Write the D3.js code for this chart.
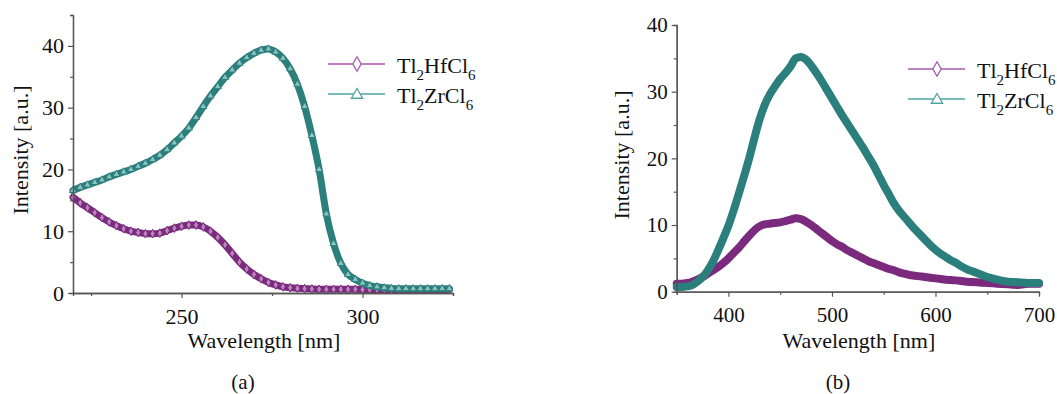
<!DOCTYPE html>
<html>
<head>
<meta charset="utf-8">
<script src="https://cdn.jsdelivr.net/npm/d3@7"></script>
<style>
  body { margin: 0; background: #fff; }
  text { font-family: "Liberation Serif", "Times New Roman", serif; fill: #111; }
</style>
</head>
<body>
<svg id="chart" width="1057" height="394"></svg>
<script>
// panel (a): excitation, 220-325 nm
const nmA = [220, 222, 224, 226, 228, 230, 232, 234, 236, 238, 240, 242, 244, 246, 248, 250,
  252, 254, 256, 258, 260, 262, 264, 266, 268, 270, 272, 274, 276, 278, 280, 282, 284, 286,
  288, 290, 292, 294, 296, 298, 300, 302, 304, 306, 308, 310, 312, 314, 316, 318, 320, 322, 324];
const hfA = [15.5, 14.6, 13.8, 13.0, 12.2, 11.5, 10.9, 10.4, 10.0, 9.8, 9.6, 9.6, 9.7, 10.1, 10.5, 10.8,
  11.0, 11.0, 10.7, 10.0, 9.0, 7.8, 6.4, 5.0, 3.9, 3.0, 2.3, 1.7, 1.3, 1.0, 0.85, 0.75, 0.7, 0.65,
  0.6, 0.6, 0.6, 0.6, 0.6, 0.6, 0.55, 0.55, 0.55, 0.55, 0.55, 0.55, 0.55, 0.55, 0.55, 0.55, 0.55, 0.55, 0.55];
const zrA = [16.6, 17.1, 17.5, 17.9, 18.3, 18.8, 19.2, 19.6, 20.0, 20.5, 21.0, 21.6, 22.3, 23.2, 24.3, 25.4,
  26.7, 28.4, 30.2, 31.9, 33.4, 34.9, 36.1, 37.2, 38.1, 38.8, 39.3, 39.5, 39.0, 38.0, 36.3, 33.8, 30.2, 25.5,
  20.0, 12.8, 8.0, 4.8, 3.0, 2.2, 1.6, 1.2, 1.0, 0.85, 0.75, 0.7, 0.7, 0.7, 0.7, 0.7, 0.7, 0.7, 0.7];

// panel (b): emission, 350-700 nm
const nmB = [350, 355, 360, 365, 370, 375, 380, 385, 390, 395, 400, 405, 410, 415, 420, 425, 430, 435,
  440, 445, 450, 455, 460, 465, 470, 475, 480, 485, 490, 495, 500, 505, 510, 515, 520, 525, 530, 535,
  540, 545, 550, 555, 560, 565, 570, 575, 580, 585, 590, 595, 600, 605, 610, 615, 620, 625, 630, 635,
  640, 645, 650, 655, 660, 665, 670, 675, 680, 685, 690, 695, 700];
const hfB = [1.2, 1.2, 1.3, 1.5, 1.8, 2.2, 2.7, 3.2, 3.7, 4.3, 5.0, 5.8, 6.6, 7.5, 8.4, 9.2, 9.8, 10.1,
  10.2, 10.3, 10.4, 10.6, 10.8, 11.0, 10.9, 10.5, 10.0, 9.4, 8.8, 8.2, 7.6, 7.1, 6.7, 6.2, 5.8, 5.4, 5.0, 4.6,
  4.3, 4.0, 3.7, 3.4, 3.2, 2.9, 2.7, 2.5, 2.4, 2.3, 2.2, 2.1, 2.0, 1.9, 1.8, 1.75, 1.7, 1.6, 1.5, 1.45,
  1.4, 1.35, 1.3, 1.25, 1.2, 1.15, 1.1, 1.05, 1.0, 1.1, 1.2, 1.2, 1.2];
const zrB = [0.7, 0.7, 0.8, 1.0, 1.5, 2.2, 3.2, 4.5, 6.2, 8.0, 9.9, 12.2, 14.7, 17.3, 20.0, 23.0, 25.8, 28.0,
  29.6, 30.8, 31.9, 32.8, 33.8, 35.0, 35.2, 34.8, 33.9, 32.8, 31.6, 30.3, 29.0, 27.7, 26.4, 25.2, 24.0, 22.8, 21.6, 20.3,
  19.0, 17.5, 16.0, 14.6, 13.2, 12.1, 11.2, 10.3, 9.4, 8.6, 7.8, 7.0, 6.3, 5.7, 5.2, 4.7, 4.3, 3.8, 3.4, 3.1,
  2.8, 2.5, 2.2, 2.0, 1.8, 1.6, 1.5, 1.45, 1.4, 1.35, 1.3, 1.3, 1.3];

const svg = d3.select("#chart");

const purple = "#7b2a7e",
  purpleLight = "#a65aab",
  teal = "#2b7f7c",
  tealLight = "#4ea5a2";

function legend(g, x, y) {
  const rows = [
    { name: ["Tl", "2", "HfCl", "6"], color: purpleLight, shape: d3.symbolDiamond },
    { name: ["Tl", "2", "ZrCl", "6"], color: tealLight, shape: d3.symbolTriangle },
  ];
  rows.forEach(function (r, i) {
    var ly = y + i * 30;
    g.append("line")
      .attr("x1", x).attr("x2", x + 57)
      .attr("y1", ly).attr("y2", ly)
      .attr("stroke", r.color).attr("stroke-width", 1.6);
    g.append("path")
      .attr("d", d3.symbol().type(r.shape).size(r.shape === d3.symbolDiamond ? 60 : 55)())
      .attr("transform", "translate(" + (x + 29) + "," + (ly + (i ? 1 : 0)) + ")")
      .attr("fill", "#fff").attr("stroke", r.color).attr("stroke-width", 1.3);
    var t = g.append("text")
      .attr("x", x + 69).attr("y", ly + 9)
      .attr("font-size", 22);
    t.append("tspan").text(r.name[0]);
    t.append("tspan").attr("font-size", 15).attr("dy", 7).text(r.name[1]);
    t.append("tspan").attr("dy", -7).text(r.name[2]);
    t.append("tspan").attr("font-size", 15).attr("dy", 7).text(r.name[3]);
  });
}

function panel(opt) {
  var x = d3.scaleLinear().domain(opt.xDomain).range([opt.left, opt.right]);
  var y = d3.scaleLinear().domain(opt.yDomain).range([opt.bottom, opt.top]);
  var g = svg.append("g");

  // data: thick band with the measured points on top
  var line = d3.line().curve(d3.curveMonotoneX);
  [
    { v: opt.hf, color: purple, fillc: opt.fillHf, shape: d3.symbolDiamond },
    { v: opt.zr, color: teal, fillc: opt.fillZr, shape: d3.symbolTriangle },
  ].forEach(function (s) {
    var pts = opt.nm.map(function (d, i) { return [x(d), y(s.v[i])]; });
    g.append("path")
      .attr("d", line(pts))
      .attr("fill", "none")
      .attr("stroke", s.color)
      .attr("stroke-width", opt.band)
      .attr("stroke-linejoin", "round")
      .attr("stroke-linecap", "round");
    g.selectAll(null)
      .data(pts)
      .enter()
      .append("path")
      .attr("d", d3.symbol().type(s.shape).size(opt.marker)())
      .attr("transform", function (d) { return "translate(" + d[0] + "," + d[1] + ")"; })
      .attr("fill", s.fillc)
      .attr("stroke", s.color)
      .attr("stroke-width", 1);
  });

  // axes
  var axisColor = "#555";
  g.append("g")
    .attr("transform", "translate(0," + opt.bottom + ")")
    .call(d3.axisBottom(x).tickValues(opt.xMajor).tickSizeInner(5).tickSizeOuter(0).tickPadding(10).tickFormat(d3.format("d")));
  g.append("g")
    .attr("transform", "translate(0," + opt.bottom + ")")
    .call(d3.axisBottom(x).tickValues(opt.xMinor).tickSize(3).tickFormat(""));
  g.append("g")
    .attr("transform", "translate(" + opt.left + ",0)")
    .call(d3.axisLeft(y).tickValues(opt.yMajor).tickSizeInner(5).tickSizeOuter(0).tickPadding(4).tickFormat(d3.format("d")));
  g.append("g")
    .attr("transform", "translate(" + opt.left + ",0)")
    .call(d3.axisLeft(y).tickValues(opt.yMinor).tickSize(3).tickFormat(""));

  g.selectAll(".domain").attr("stroke", axisColor).attr("stroke-width", 1.3);
  g.selectAll(".tick line").attr("stroke", axisColor).attr("stroke-width", 1.2);
  g.selectAll(".tick text")
    .attr("font-size", opt.tickFont)
    .attr("fill", "#111");

  // titles
  g.append("text")
    .attr("x", (opt.left + opt.right) / 2 + opt.xTitleShift)
    .attr("y", 348)
    .attr("text-anchor", "middle")
    .attr("font-size", 22)
    .text("Wavelength [nm]");
  g.append("text")
    .attr("transform", "translate(" + opt.yTitleX + "," + opt.yTitleY + ") rotate(-90)")
    .attr("text-anchor", "middle")
    .attr("font-size", 22)
    .text("Intensity [a.u.]");
  g.append("text")
    .attr("x", opt.labelX)
    .attr("y", 389)
    .attr("text-anchor", "middle")
    .attr("font-size", 21)
    .text(opt.label);

  legend(g, opt.legX, opt.legY);
}

panel({
  nm: nmA, hf: hfA, zr: zrA,
  xDomain: [220, 325], yDomain: [0, 45],
  left: 73, right: 453, top: 15, bottom: 293,
  xMajor: [250, 300], xMinor: [225, 275, 325],
  yMajor: [0, 10, 20, 30, 40], yMinor: [5, 15, 25, 35, 45],
  band: 7, marker: 22, fillHf: "#b987bc", fillZr: "#8cc3c1",
  tickFont: 22, xTitleShift: 1, yTitleX: 28, yTitleY: 150,
  label: "(a)", labelX: 243, legX: 328, legY: 64,
});

panel({
  nm: nmB, hf: hfB, zr: zrB,
  xDomain: [350, 700], yDomain: [0, 40],
  left: 676.7, right: 1039, top: 25, bottom: 291.7,
  xMajor: [400, 500, 600, 700], xMinor: [350, 450, 550, 650],
  yMajor: [0, 10, 20, 30, 40], yMinor: [5, 15, 25, 35],
  band: 8, marker: 14, fillHf: purple, fillZr: teal,
  tickFont: 21, xTitleShift: 1, yTitleX: 629, yTitleY: 155,
  label: "(b)", labelX: 838, legX: 908, legY: 69,
});
</script>
</body>
</html>
